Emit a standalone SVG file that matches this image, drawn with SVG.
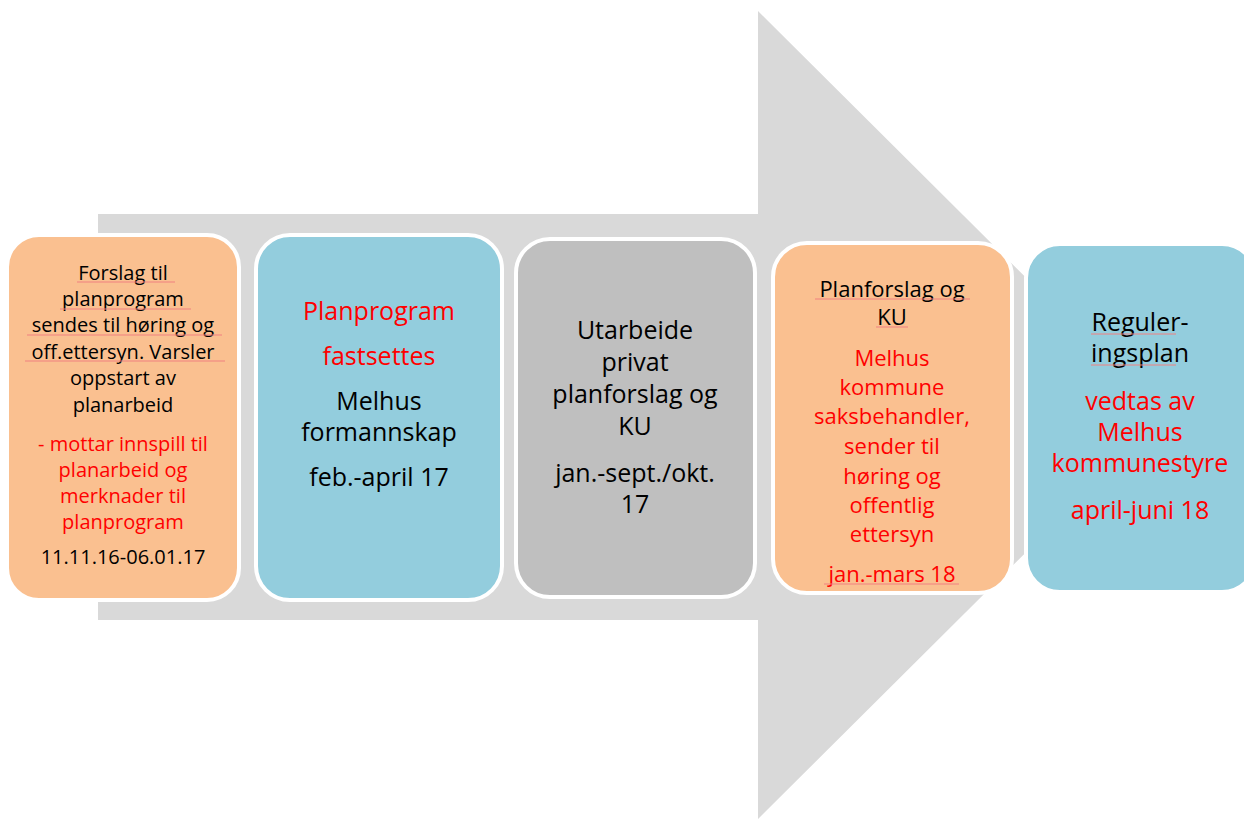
<svg xmlns="http://www.w3.org/2000/svg" width="1244" height="819" viewBox="0 0 1244 819">
<style>
.box{stroke:#fff;stroke-width:4}
.org{fill:#FAC090}.blu{fill:#93CDDD}.gry{fill:#BFBFBF}
text{font-family:"Open Sans","Liberation Sans",sans-serif;text-anchor:middle;fill:#000}
.r{fill:#FF0000}
.s1{font-size:20px}.s2{font-size:25px}.s4{font-size:22px}
.sq{stroke:#F08080;stroke-width:1;fill:none}
</style>
<rect width="1244" height="819" fill="#fff"/>
<g id="arrow">
<polygon points="98,214 758,214 758,11 1164,415 758,819 758,620 98,620" fill="#D9D9D9"/>
</g>
<g id="connectors"></g>
<g id="node1">
<rect class="box org" x="7" y="235" width="232" height="365" rx="32"/>
<g class="s1">
<text x="123" y="280">Forslag til</text>
<text x="123" y="306">planprogram</text>
<text x="123" y="332">sendes til høring og</text>
<text x="123" y="359">off.ettersyn. Varsler</text>
<text x="123" y="385">oppstart av</text>
<text x="123" y="412">planarbeid</text>
<text class="r" x="123" y="451">- mottar innspill til</text>
<text class="r" x="123" y="477">planarbeid og</text>
<text class="r" x="123" y="503">merknader til</text>
<text class="r" x="123" y="529">planprogram</text>
<text x="123" y="564">11.11.16-06.01.17</text>
</g>
<path class="sq" d="M77,282h98M60,309h131M27,335h195M25,361h200"/>
</g>
<g id="node2">
<rect class="box blu" x="256" y="235" width="246" height="365" rx="34"/>
<g class="s2">
<text class="r" x="379" y="320">Planprogram</text>
<text class="r" x="379" y="365">fastsettes</text>
<text x="379" y="410">Melhus</text>
<text x="379" y="441">formannskap</text>
<text x="379" y="486">feb.-april 17</text>
</g>
</g>
<g id="node3">
<rect class="box gry" x="516" y="239" width="239" height="358" rx="34"/>
<g class="s2">
<text x="635" y="339">Utarbeide</text>
<text x="635" y="371">privat</text>
<text x="635" y="403">planforslag og</text>
<text x="635" y="435">KU</text>
<text x="635" y="482">jan.-sept./okt.</text>
<text x="635" y="513">17</text>
</g>
</g>
<g id="node4">
<rect class="box org" x="773" y="243" width="239" height="350" rx="34"/>
<g class="s4">
<text x="892" y="297">Planforslag og</text>
<text x="892" y="325">KU</text>
<text class="r" x="892" y="366">Melhus</text>
<text class="r" x="892" y="395">kommune</text>
<text class="r" x="892" y="424">saksbehandler,</text>
<text class="r" x="892" y="454">sender til</text>
<text class="r" x="892" y="484">høring og</text>
<text class="r" x="892" y="513">offentlig</text>
<text class="r" x="892" y="542">ettersyn</text>
<text class="r" x="892" y="582">jan.-mars 18</text>
</g>
<path class="sq" d="M815,299h155M876,327h32M824,584h135"/>
</g>
<g id="node5">
<rect class="box blu" x="1026" y="244" width="230" height="348" rx="34"/>
<g class="s2">
<text x="1140" y="331">Reguler-</text>
<text x="1140" y="362">ingsplan</text>
<text class="r" x="1140" y="410">vedtas av</text>
<text class="r" x="1140" y="441">Melhus</text>
<text class="r" x="1140" y="472">kommunestyre</text>
<text class="r" x="1140" y="519">april-juni 18</text>
</g>
<path class="sq" d="M1091,334h85M1091,365h85"/>
</g>
</svg>
